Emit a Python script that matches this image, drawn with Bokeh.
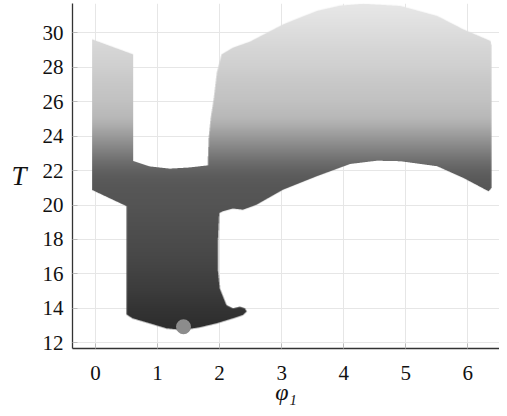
import numpy as np
from bokeh.plotting import figure
from bokeh.models import FixedTicker
from bokeh.embed import file_html
from bokeh.resources import INLINE

# Outline of the region in the (phi_1, T) plane, traced clockwise
phi_outline = [-0.053, 0.604, 0.604, 0.870, 1.193, 1.515, 1.805, 1.821, 1.853, 1.902,
               1.950, 2.026, 2.208, 2.482, 3.014, 3.557, 3.932, 4.303, 4.899, 5.491,
               5.915, 6.350, 6.366, 6.366, 6.317, 5.915, 5.491, 4.899, 4.524, 4.093,
               3.557, 3.014, 2.590, 2.369, 2.208, 2.047, 1.990, 1.971, 1.971, 1.998,
               2.106, 2.208, 2.321, 2.401, 2.429, 2.369, 2.208, 1.945, 1.676, 1.402,
               1.139, 0.870, 0.596, 0.495, 0.495, -0.053]
T_outline = [29.57, 28.70, 22.53, 22.21, 22.08, 22.15, 22.27, 23.86, 25.02, 26.18,
             27.64, 28.70, 29.09, 29.44, 30.44, 31.22, 31.53, 31.64, 31.51, 30.93,
             30.15, 29.48, 29.20, 20.96, 20.77, 21.54, 22.22, 22.51, 22.54, 22.35,
             21.64, 20.86, 19.99, 19.70, 19.77, 19.61, 19.51, 18.05, 16.14, 15.15,
             14.18, 13.99, 14.09, 13.99, 13.82, 13.60, 13.41, 13.12, 12.89, 12.73,
             12.83, 13.12, 13.41, 13.64, 19.91, 20.84]

# Gray level (0-255) of the fill as a function of T
grad_T = [12.5, 13.0, 14.0, 15.0, 16.0, 17.0, 18.0, 19.0, 20.0, 21.0, 21.5, 22.0,
          22.5, 23.0, 23.5, 24.0, 24.5, 25.0, 26.0, 27.0, 28.0, 29.0, 30.5, 31.7]
grad_gray = [44, 46, 52, 60, 66, 72, 76, 80, 84, 87, 90, 98,
             110, 125, 140, 155, 172, 184, 194, 200, 208, 214, 225, 232]

# Marked point
marker_phi = [1.418]
marker_T = [12.93]

x_ticks = [0, 1, 2, 3, 4, 5, 6]
y_ticks = [12, 14, 16, 18, 20, 22, 24, 26, 28, 30]

x_lo, x_hi = -0.371, 6.511
y_lo, y_hi = 11.67, 31.70

W, H = 499, 408
BL, BR, BT, BB = 72, 0, 3, 60
p = figure(width=W, height=H, x_range=(x_lo, x_hi), y_range=(y_lo, y_hi),
           output_backend="svg", toolbar_location=None,
           min_border_left=BL, min_border_right=BR, min_border_top=BT,
           min_border_bottom=BB)
p.outline_line_color = None
p.background_fill_color = "white"

# raster of the region, with a vertical grey gradient
px_per_x = (W - BL - BR) / (x_hi - x_lo)
px_per_y = (H - BT - BB) / (y_hi - y_lo)
ix0, ix1 = -0.12, 6.42
iy0, iy1 = 12.55, 31.8
nx = int(round((ix1 - ix0) * px_per_x))
ny = int(round((iy1 - iy0) * px_per_y))
ss = 3
xs = ix0 + (np.arange(nx * ss) + 0.5) / (nx * ss) * (ix1 - ix0)
ys = iy0 + (np.arange(ny * ss) + 0.5) / (ny * ss) * (iy1 - iy0)
PX, PY = np.meshgrid(xs, ys)

vx = np.array(phi_outline)
vy = np.array(T_outline)
inside = np.zeros(PX.shape, dtype=bool)
n = len(vx)
j = n - 1
with np.errstate(divide="ignore", invalid="ignore"):
    for i in range(n):
        xi, yi, xj, yj = vx[i], vy[i], vx[j], vy[j]
        cond = (yi > PY) != (yj > PY)
        if yj != yi:
            xint = (xj - xi) * (PY - yi) / (yj - yi) + xi
            inside ^= cond & (PX < xint)
        j = i

alpha = inside.reshape(ny, ss, nx, ss).mean(axis=(1, 3))
yc = iy0 + (np.arange(ny) + 0.5) / ny * (iy1 - iy0)
gray = np.interp(yc, grad_T, grad_gray)

img = np.zeros((ny, nx), dtype=np.uint32)
view = img.view(dtype=np.uint8).reshape((ny, nx, 4))
g = np.repeat(gray[:, None], nx, axis=1).astype(np.uint8)
view[:, :, 0] = g
view[:, :, 1] = g
view[:, :, 2] = g
view[:, :, 3] = (alpha * 255).round().astype(np.uint8)

p.image_rgba(image=[img], x=ix0, y=iy0, dw=ix1 - ix0, dh=iy1 - iy0)

p.scatter(marker_phi, marker_T, size=15, color="#8c8c8c", line_color=None)

# axes styling
p.xaxis.ticker = FixedTicker(ticks=x_ticks)
p.yaxis.ticker = FixedTicker(ticks=y_ticks)
p.xgrid.ticker = FixedTicker(ticks=x_ticks)
p.ygrid.ticker = FixedTicker(ticks=y_ticks)
p.grid.grid_line_color = "#e6e6e6"
p.grid.grid_line_width = 1

SERIF = "Liberation Serif"
p.axis.axis_line_color = "#333333"
p.axis.axis_line_width = 1.3
p.axis.major_tick_in = 5
p.axis.major_tick_out = 0
p.axis.major_tick_line_color = "#bbbbbb"
p.axis.minor_tick_line_color = None
p.axis.major_label_text_font = SERIF
p.axis.major_label_text_font_size = "21px"
p.axis.major_label_text_color = "#111111"
p.axis.axis_label_text_font = SERIF
p.axis.axis_label_text_color = "#111111"
p.axis.axis_label_text_font_style = "italic"
p.xaxis.major_label_standoff = 17
p.yaxis.major_label_standoff = 9

p.xaxis.axis_label = "φ₁"
p.xaxis.axis_label_text_font_size = "24px"
p.xaxis.axis_label_standoff = -4

p.yaxis.axis_label = "T"
p.yaxis.axis_label_text_font_size = "27px"
p.yaxis.axis_label_orientation = "horizontal"
p.yaxis.axis_label_standoff = 13

open("out.html", "w").write(file_html(p, INLINE))
